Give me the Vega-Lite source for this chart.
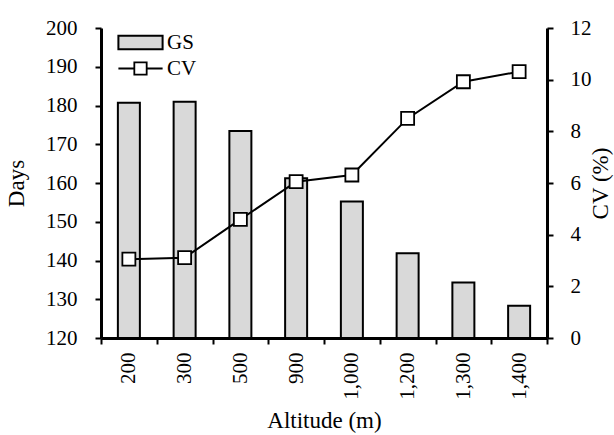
{
  "$schema": "https://vega.github.io/schema/vega-lite/v6.json",
  "autosize": {"type": "none"},
  "width": 446,
  "height": 310,
  "padding": {"left": 101, "top": 28, "right": 67, "bottom": 97},
  "background": "white",
  "config": {
    "view": {"stroke": null},
    "font": "Liberation Serif",
    "axis": {
      "labelFont": "Liberation Serif",
      "titleFont": "Liberation Serif",
      "labelFontSize": 21,
      "titleFontSize": 23,
      "labelColor": "black",
      "titleColor": "black",
      "titleFontWeight": "normal",
      "domainColor": "black",
      "domainWidth": 3,
      "tickColor": "black",
      "tickWidth": 2,
      "tickSize": 6,
      "grid": false
    },
    "legend": {
      "labelFont": "Liberation Serif",
      "labelFontSize": 21,
      "labelColor": "black"
    }
  },
  "data": {
    "values": [
      {"alt": "200", "gs": 180.7, "cv": 3.05},
      {"alt": "300", "gs": 181.0, "cv": 3.11},
      {"alt": "500", "gs": 173.4, "cv": 4.59},
      {"alt": "900", "gs": 161.2, "cv": 6.05},
      {"alt": "1,000", "gs": 155.2, "cv": 6.31},
      {"alt": "1,200", "gs": 141.9, "cv": 8.5},
      {"alt": "1,300", "gs": 134.3, "cv": 9.92},
      {"alt": "1,400", "gs": 128.3, "cv": 10.31}
    ]
  },
  "encoding": {
    "x": {
      "field": "alt",
      "type": "nominal",
      "sort": null,
      "scale": {"paddingInner": 0, "paddingOuter": 0},
      "axis": {
        "title": "Altitude (m)",
        "labelAngle": -90,
        "labelAlign": "right",
        "labelBaseline": "middle",
        "labelPadding": 8,
        "tickBand": "extent",
        "titlePadding": 10
      }
    }
  },
  "layer": [
    {
      "mark": {"type": "bar", "size": 22, "stroke": "black", "strokeWidth": 2},
      "encoding": {
        "y": {
          "field": "gs",
          "type": "quantitative",
          "scale": {"domain": [120, 200], "zero": false, "nice": false},
          "axis": {
            "title": "Days",
            "values": [120, 130, 140, 150, 160, 170, 180, 190, 200],
            "labelPadding": 18,
            "titlePadding": 17
          }
        },
        "y2": {"datum": 120},
        "fill": {
          "datum": "GS",
          "type": "nominal",
          "scale": {"range": ["#d9d9d9"]},
          "legend": {
            "title": null,
            "orient": "none",
            "legendX": 29,
            "legendY": 4,
            "padding": 0,
            "symbolType": "M-3.4,-1.05H3.4V1.05H-3.4Z",
            "symbolSize": 169,
            "symbolStrokeColor": "black",
            "symbolStrokeWidth": 2,
            "symbolFillColor": "#d9d9d9",
            "labelOffset": 16
          }
        }
      }
    },
    {
      "layer": [
        {
          "mark": {"type": "line", "color": "black", "strokeWidth": 2},
          "encoding": {
            "y": {
              "field": "cv",
              "type": "quantitative",
              "scale": {"domain": [0, 12], "nice": false},
              "axis": {
                "title": "CV (%)",
                "orient": "right",
                "values": [0, 2, 4, 6, 8, 10, 12],
                "labelPadding": 17,
                "titleAngle": -90,
                "titleBaseline": "top",
                "titlePadding": -2
              }
            },
            "stroke": {
              "datum": "CV",
              "type": "nominal",
              "scale": {"range": ["black"]},
              "legend": {
                "title": null,
                "orient": "none",
                "legendX": 29,
                "legendY": 30,
                "padding": 0,
                "symbolType": "M-3.4,0H-0.95M0.95,0H3.4M-0.95,-0.95H0.95V0.95H-0.95Z",
                "symbolSize": 169,
                "symbolStrokeWidth": 1.8,
                "symbolStrokeColor": "black",
                "labelOffset": 16,
                "encode": {"symbols": {"update": {"fill": {"value": "white"}}}}
              }
            }
          }
        },
        {
          "mark": {"type": "point", "shape": "square", "size": 169, "filled": true, "fill": "white", "stroke": "black", "strokeWidth": 1.8, "opacity": 1},
          "encoding": {
            "y": {"field": "cv", "type": "quantitative"}
          }
        }
      ]
    }
  ],
  "resolve": {"scale": {"y": "independent", "fill": "independent", "stroke": "independent"}}
}
